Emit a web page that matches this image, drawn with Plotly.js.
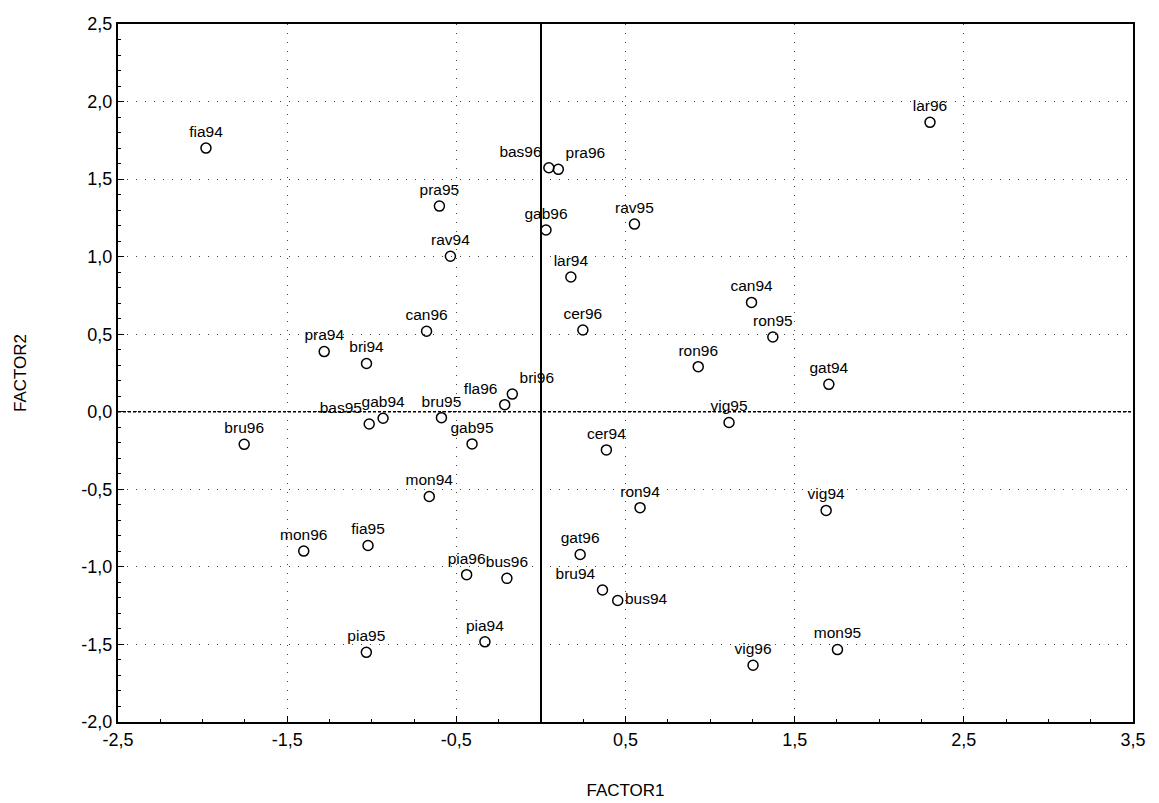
<!DOCTYPE html>
<html>
<head>
<meta charset="utf-8">
<script src="https://cdn.plot.ly/plotly-3.0.1.min.js"></script>
<style>html,body{margin:0;padding:0;background:#fff;}#chart{width:1159px;height:803px;}</style>
</head>
<body>
<div id="chart"></div>
<script>
// Observation labels (site + year)
const labels = ["fia94","pra95","rav94","can96","pra94","bri94","bru96","gab94","bas95","bru95","gab95","fla96","bri96",
  "bas96","pra96","gab96","rav95","lar94","cer96","can94","ron95","ron96","gat94","vig95","lar96",
  "cer94","mon94","ron94","mon96","fia95","pia96","bus96","gat96","bru94","bus94","pia95","pia94",
  "vig94","vig96","mon95"];
// FACTOR1 scores
const factor1 = [-1.98,-0.60,-0.535,-0.676,-1.281,-1.031,-1.754,-0.933,-1.015,-0.588,-0.407,-0.214,-0.169,
  0.047,0.103,0.030,0.553,0.177,0.248,1.245,1.371,0.930,1.702,1.112,2.30,
  0.387,-0.660,0.586,-1.402,-1.022,-0.439,-0.201,0.232,0.364,0.454,-1.032,-0.331,
  1.686,1.254,1.753];
// FACTOR2 scores
const factor2 = [1.70,1.326,1.003,0.519,0.388,0.311,-0.21,-0.042,-0.079,-0.038,-0.207,0.046,0.114,
  1.573,1.563,1.172,1.21,0.869,0.527,0.705,0.482,0.291,0.177,-0.069,1.866,
  -0.246,-0.546,-0.618,-0.898,-0.862,-1.050,-1.074,-0.920,-1.149,-1.217,-1.551,-1.483,
  -0.636,-1.634,-1.533];
// Tick values and labels
const xTickVals = [-2.5,-1.5,-0.5,0.5,1.5,2.5,3.5];
const xTickText = ["-2,5","-1,5","-0,5","0,5","1,5","2,5","3,5"];
const yTickVals = [-2.0,-1.5,-1.0,-0.5,0.0,0.5,1.0,1.5,2.0,2.5];
const yTickText = ["-2,0","-1,5","-1,0","-0,5","0,0","0,5","1,0","1,5","2,0","2,5"];

const FONT = "Liberation Sans, Arial, sans-serif";

// label placement: centred above the marker, nudged aside where labels collide
const nudge = {bas96: "top left", pra96: "top right", bas95: "top left",
  fla96: "top left", bri96: "top right", bru94: "top left", bus94: "middle right"};
const positions = labels.map(l => nudge[l] || "top center");

const trace = {
  type: "scatter",
  mode: "markers+text",
  x: factor1,
  y: factor2,
  text: labels,
  textposition: positions,
  textfont: {family: FONT, size: 15.5, color: "#000"},
  marker: {symbol: "circle-open", size: 10, color: "#000", line: {width: 1.5, color: "#000"}},
  cliponaxis: false,
  hoverinfo: "text"
};

const layout = {
  width: 1159, height: 803,
  paper_bgcolor: "#fff", plot_bgcolor: "#fff",
  margin: {l: 118, r: 26, t: 24, b: 81},
  showlegend: false,
  font: {family: FONT, size: 18, color: "#000"},
  xaxis: {
    range: [-2.5, 3.5], autorange: false,
    tickvals: xTickVals, ticktext: xTickText,
    showline: true, mirror: true, linecolor: "#000", linewidth: 2,
    ticks: "inside", ticklen: 6, tickcolor: "#000", tickwidth: 1,
    minor: {dtick: 0.25, tick0: 0, ticks: "inside", ticklen: 3, tickcolor: "#000", showgrid: false},
    showgrid: true, gridcolor: "#444", gridwidth: 1, griddash: "1px,8px",
    zeroline: true, zerolinecolor: "#000", zerolinewidth: 1.5,
    tickfont: {family: FONT, size: 18, color: "#000"},
    title: {text: "FACTOR1", font: {family: FONT, size: 17, color: "#000"}, standoff: 36},
    automargin: false
  },
  yaxis: {
    range: [-2.0, 2.5], autorange: false,
    tickvals: yTickVals, ticktext: yTickText,
    showline: true, mirror: true, linecolor: "#000", linewidth: 2,
    ticks: "inside", ticklen: 6, tickcolor: "#000", tickwidth: 1,
    minor: {dtick: 0.1, tick0: 0, ticks: "inside", ticklen: 3, tickcolor: "#000", showgrid: false},
    showgrid: true, gridcolor: "#444", gridwidth: 1, griddash: "1px,8px",
    zeroline: false,
    tickfont: {family: FONT, size: 18, color: "#000"},
    title: {text: "FACTOR2", font: {family: FONT, size: 17, color: "#000"}, standoff: 50},
    automargin: false
  },
  shapes: [{
    type: "line", xref: "paper", x0: 0, x1: 1, yref: "y", y0: 0, y1: 0,
    line: {color: "#000", width: 1.5, dash: "3px,2px"}, layer: "above"
  }]
};

Plotly.newPlot("chart", [trace], layout, {staticPlot: true, displayModeBar: false});
</script>
</body>
</html>
